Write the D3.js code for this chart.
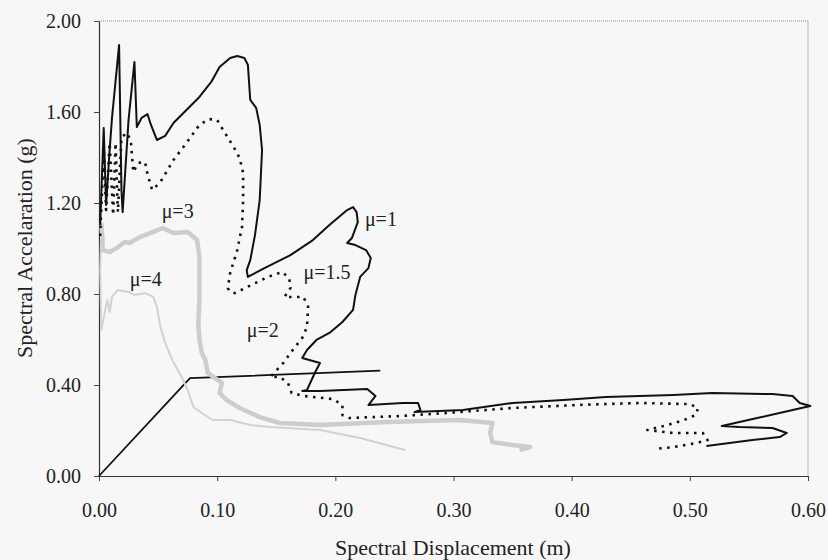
<!DOCTYPE html>
<html>
<head>
<meta charset="utf-8">
<script src="https://cdn.jsdelivr.net/npm/d3@7/dist/d3.min.js"></script>
<style>
  html, body { margin: 0; padding: 0; background: #f7f7f7; }
  svg { display: block; }
  text { font-family: "Liberation Serif", "Times New Roman", serif; fill: #222; }
</style>
</head>
<body>
<svg id="chart" width="828" height="560"></svg>
<script>
// ---- data (x: spectral displacement m, y: spectral acceleration g) ----
const xTicks = [0.00, 0.10, 0.20, 0.30, 0.40, 0.50, 0.60];
const yTicks = [0.00, 0.40, 0.80, 1.20, 1.60, 2.00];

const capacity = [[0, 0], [0.077, 0.430], [0.238, 0.463]];

const mu1 = [
  [0.001,1.103],[0.004,1.530],[0.006,1.191],[0.009,1.433],[0.011,1.574],[0.017,1.895],
  [0.019,1.257],[0.020,1.160],[0.025,1.565],[0.030,1.820],[0.032,1.534],[0.036,1.574],
  [0.041,1.591],[0.044,1.543],[0.049,1.477],[0.056,1.495],[0.063,1.552],[0.074,1.609],
  [0.085,1.666],[0.095,1.732],[0.102,1.798],[0.111,1.837],[0.117,1.846],[0.123,1.837],
  [0.126,1.807],[0.128,1.653],[0.133,1.618],[0.136,1.543],[0.138,1.433],[0.136,1.213],
  [0.132,1.059],[0.128,0.949],[0.125,0.905],[0.126,0.875],[0.140,0.914],[0.162,0.971],
  [0.181,1.037],[0.195,1.103],[0.210,1.169],[0.215,1.182],[0.218,1.160],[0.219,1.116],
  [0.214,1.046],[0.210,1.024],[0.217,1.015],[0.226,0.993],[0.230,0.958],[0.228,0.914],
  [0.221,0.875],[0.217,0.796],[0.215,0.730],[0.206,0.677],[0.195,0.629],[0.184,0.598],
  [0.176,0.554],[0.172,0.519],[0.187,0.497],[0.183,0.457],[0.176,0.378],[0.172,0.374],
  [0.187,0.374],[0.227,0.382],[0.234,0.352],[0.228,0.312],[0.257,0.321],[0.270,0.321],
  [0.272,0.290],[0.267,0.281],[0.288,0.286],[0.308,0.290],[0.350,0.321],[0.393,0.334],
  [0.429,0.347],[0.486,0.356],[0.519,0.365],[0.570,0.360],[0.587,0.352],[0.593,0.321],
  [0.602,0.308],[0.587,0.290],[0.557,0.255],[0.527,0.220],[0.542,0.215],[0.570,0.211],
  [0.582,0.189],[0.576,0.171],[0.553,0.158],[0.514,0.132]
];

const mu15 = [
  [0.001,1.055],[0.004,1.433],[0.006,1.169],[0.009,1.464],[0.012,1.147],[0.014,1.464],
  [0.016,1.160],[0.019,1.490],[0.024,1.508],[0.027,1.468],[0.029,1.336],[0.033,1.376],
  [0.039,1.380],[0.041,1.327],[0.045,1.257],[0.052,1.292],[0.063,1.389],[0.074,1.464],
  [0.085,1.543],[0.093,1.569],[0.100,1.565],[0.105,1.521],[0.114,1.446],[0.119,1.398],
  [0.122,1.332],[0.122,1.213],[0.121,1.095],[0.117,0.993],[0.111,0.892],[0.109,0.826],
  [0.111,0.809],[0.115,0.804],[0.129,0.840],[0.143,0.875],[0.155,0.897],[0.161,0.870],
  [0.162,0.826],[0.157,0.787],[0.173,0.787],[0.177,0.743],[0.176,0.655],[0.172,0.607],
  [0.164,0.554],[0.156,0.497],[0.145,0.435],[0.153,0.435],[0.160,0.409],[0.163,0.365],
  [0.173,0.352],[0.198,0.338],[0.206,0.312],[0.206,0.268],[0.212,0.255],[0.257,0.264],
  [0.294,0.277],[0.350,0.299],[0.404,0.312],[0.458,0.321],[0.500,0.316],[0.507,0.299],
  [0.505,0.268],[0.495,0.246],[0.481,0.224],[0.464,0.202],[0.486,0.189],[0.511,0.189],
  [0.515,0.158],[0.506,0.145],[0.486,0.127],[0.470,0.119]
];

const mu3 = [
  [0.002,1.112],[0.003,1.037],[0.003,0.993],[0.009,0.985],[0.015,1.002],[0.022,1.029],
  [0.026,1.024],[0.035,1.051],[0.046,1.073],[0.054,1.090],[0.063,1.068],[0.075,1.073],
  [0.083,1.037],[0.085,0.963],[0.085,0.774],[0.084,0.673],[0.085,0.598],[0.087,0.541],
  [0.090,0.510],[0.092,0.453],[0.104,0.409],[0.102,0.365],[0.108,0.334],[0.119,0.299],
  [0.136,0.259],[0.153,0.233],[0.187,0.224],[0.244,0.237],[0.305,0.246],[0.333,0.233],
  [0.331,0.189],[0.333,0.149],[0.350,0.136],[0.365,0.127],[0.356,0.114]
];

const mu4 = [
  [0.002,1.099],[0.001,0.905],[0.002,0.642],[0.004,0.695],[0.007,0.774],[0.009,0.721],
  [0.011,0.787],[0.016,0.818],[0.025,0.809],[0.030,0.796],[0.039,0.804],[0.046,0.787],
  [0.049,0.743],[0.052,0.655],[0.056,0.585],[0.062,0.510],[0.070,0.435],[0.075,0.378],
  [0.080,0.303],[0.087,0.277],[0.096,0.246],[0.111,0.246],[0.128,0.224],[0.145,0.215],
  [0.187,0.202],[0.221,0.167],[0.259,0.114]
];

const labels = [
  { text: "\u03bc=1",   x: 0.225, y: 1.10 },
  { text: "\u03bc=1.5", x: 0.173, y: 0.865 },
  { text: "\u03bc=2",   x: 0.125, y: 0.613 },
  { text: "\u03bc=3",   x: 0.053, y: 1.136 },
  { text: "\u03bc=4",   x: 0.026, y: 0.833 }
];

// ---- layout ----
const svg = d3.select("#chart");
const L = 99, R = 808, T = 21, B = 476;
const x = d3.scaleLinear().domain([0, 0.6]).range([L, R]);
const y = d3.scaleLinear().domain([0, 2.0]).range([B, T]);

// plot frame (top dotted, right light)
svg.append("line").attr("x1", L).attr("x2", R).attr("y1", T).attr("y2", T)
  .attr("stroke", "#8a8a8a").attr("stroke-width", 1).attr("stroke-dasharray", "1,1");
svg.append("line").attr("x1", R).attr("x2", R).attr("y1", T).attr("y2", B)
  .attr("stroke", "#b5b5b5").attr("stroke-width", 1);

// axes
const fmt = d3.format(".2f");
const gx = svg.append("g").attr("transform", `translate(0,${B})`)
  .call(d3.axisBottom(x).tickValues(xTicks).tickFormat(fmt).tickSize(5).tickSizeOuter(0).tickPadding(22));
const gy = svg.append("g").attr("transform", `translate(${L},0)`)
  .call(d3.axisLeft(y).tickValues(yTicks).tickFormat(fmt).tickSize(5).tickSizeOuter(0).tickPadding(13));
[gx, gy].forEach(g => {
  g.select(".domain").attr("stroke", "#333").attr("stroke-width", 1.2);
  g.selectAll(".tick line").attr("stroke", "#444");
  g.selectAll(".tick text").attr("font-family", "Liberation Serif, Times New Roman, serif")
    .attr("font-size", 20).attr("fill", "#222");
});

// axis titles
svg.append("text").attr("x", 453).attr("y", 555).attr("text-anchor", "middle")
  .attr("font-size", 22).text("Spectral Displacement (m)");
svg.append("text").attr("transform", "translate(32,248) rotate(-90)").attr("text-anchor", "middle")
  .attr("font-size", 22).text("Spectral Accelaration (g)");

const line = d3.line().x(d => x(d[0])).y(d => y(d[1]));
const plot = svg.append("g").attr("fill", "none").attr("stroke-linejoin", "round");

plot.append("path").datum(capacity).attr("d", line)
  .attr("stroke", "#111").attr("stroke-width", 1.8);
plot.append("path").datum(mu3).attr("d", line)
  .attr("stroke", "#cdcdcd").attr("stroke-width", 4.5);
plot.append("path").datum(mu4).attr("d", line)
  .attr("stroke", "#d2d2d2").attr("stroke-width", 2);
plot.append("path").datum(mu15).attr("d", line)
  .attr("stroke", "#111").attr("stroke-width", 2.6).attr("stroke-dasharray", "2.5,5.5");
plot.append("path").datum(mu1).attr("d", line)
  .attr("stroke", "#111").attr("stroke-width", 2);

// curve labels
svg.selectAll("text.lab").data(labels).join("text").attr("class", "lab")
  .attr("x", d => x(d.x)).attr("y", d => y(d.y))
  .attr("font-size", 20).text(d => d.text);
</script>
</body>
</html>
